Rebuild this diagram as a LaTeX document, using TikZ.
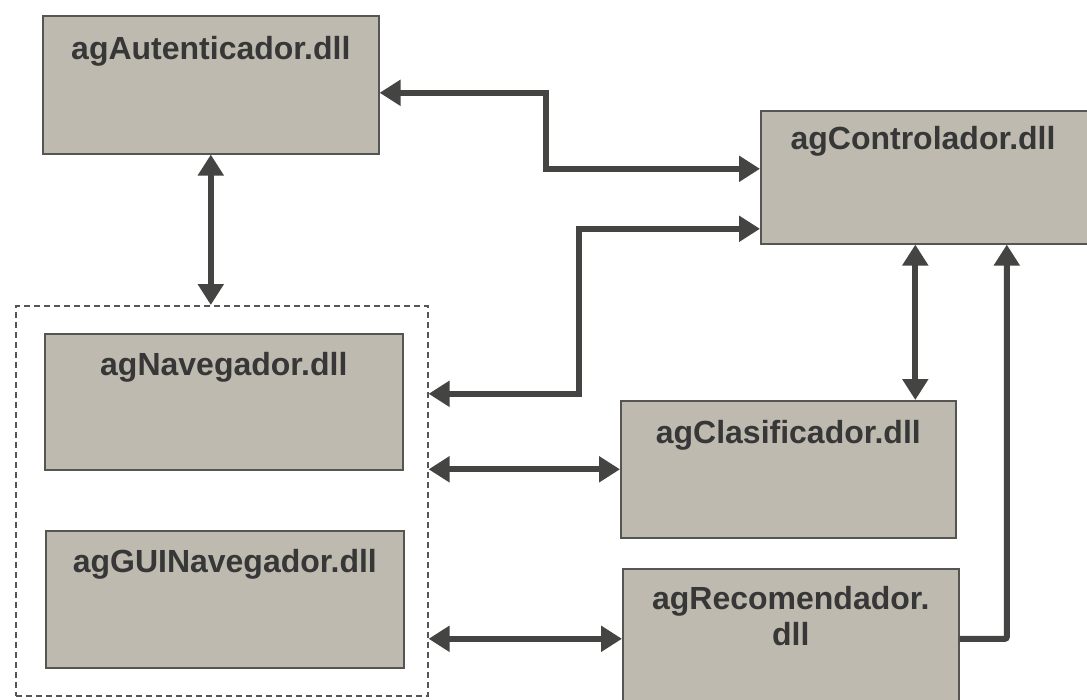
\documentclass[tikz,border=0pt]{standalone}
\usepackage{fontspec}
\setmainfont{Liberation Sans}
\usetikzlibrary{arrows.meta,calc}
\definecolor{boxfill}{RGB}{190,186,176}
\definecolor{boxline}{RGB}{85,85,82}
\definecolor{txt}{RGB}{55,55,55}
\definecolor{conncol}{RGB}{68,68,66}
\begin{document}
\begin{tikzpicture}[x=1pt,y=-1pt,
  dllbox/.style={draw=boxline,line width=1.6pt,fill=boxfill,rectangle,inner sep=0pt,anchor=north west},
  lbl/.style={text=txt,font=\fontsize{32}{36}\selectfont\bfseries,anchor=north,align=center,inner sep=0pt},
  grpbox/.style={draw=boxline,line width=1.6pt,dash pattern=on 6pt off 4pt,rectangle,inner sep=0pt,anchor=north west},
  tip/.tip={Triangle[length=21pt,width=25pt]},
  conn/.style={draw=conncol,line width=6pt,{tip}-{tip}},
  conn1/.style={draw=conncol,line width=6pt,-{tip}},
]
\useasboundingbox (0,0) rectangle (1087,699);
\fill[white] (0,0) rectangle (1087,699);

\node[dllbox,minimum width=336pt,minimum height=138pt] (aut) at (42,15) {};
\node[lbl] (autl) at ($(aut.north)+(0,21)$) {agAutenticador.dll};

\node[dllbox,minimum width=332pt,minimum height=133pt] (ctrl) at (760,110) {};
\node[lbl] (ctrll) at (923,126) {agControlador.dll};

\node[grpbox,minimum width=412pt,minimum height=390pt] (grp) at (15,305) {};

\node[dllbox,minimum width=358pt,minimum height=136pt] (nav) at (44,333) {};
\node[lbl] (navl) at ($(nav.north)+(0,19)$) {agNavegador.dll};

\node[dllbox,minimum width=358pt,minimum height=137pt] (gui) at (45,530) {};
\node[lbl] (guil) at ($(gui.north)+(0,19)$) {agGUINavegador.dll};

\node[dllbox,minimum width=335pt,minimum height=137pt] (cls) at (620,400) {};
\node[lbl] (clsl) at ($(cls.north)+(0,20)$) {agClasificador.dll};

\node[dllbox,minimum width=336pt,minimum height=140pt] (rec) at (622,568) {};
\node[lbl] (recl) at ($(rec.north)+(0,18)$) {agRecomendador.\\dll};

% connectors
\draw[conn] ([yshift=-8pt]aut.east) -- ++(166,0) |- ([yshift=8.5pt]ctrl.west);
\draw[conn] ([yshift=107pt]grp.east) -- ++(150,0) |- ([yshift=-51.5pt]ctrl.west);
\draw[conn] (aut.south) -- (aut.south |- grp.north);
\draw[conn] ([xshift=-11.5pt]ctrl.south) -- ([xshift=-11.5pt]ctrl.south |- cls.north);
\draw[conn] (grp.east |- cls.west) -- (cls.west);
\draw[conn] (grp.east |- rec.west) -- (rec.west);
\draw[conn1,rounded corners=2pt] (rec.east) -| ([xshift=80pt]ctrl.south);
\end{tikzpicture}
\end{document}
